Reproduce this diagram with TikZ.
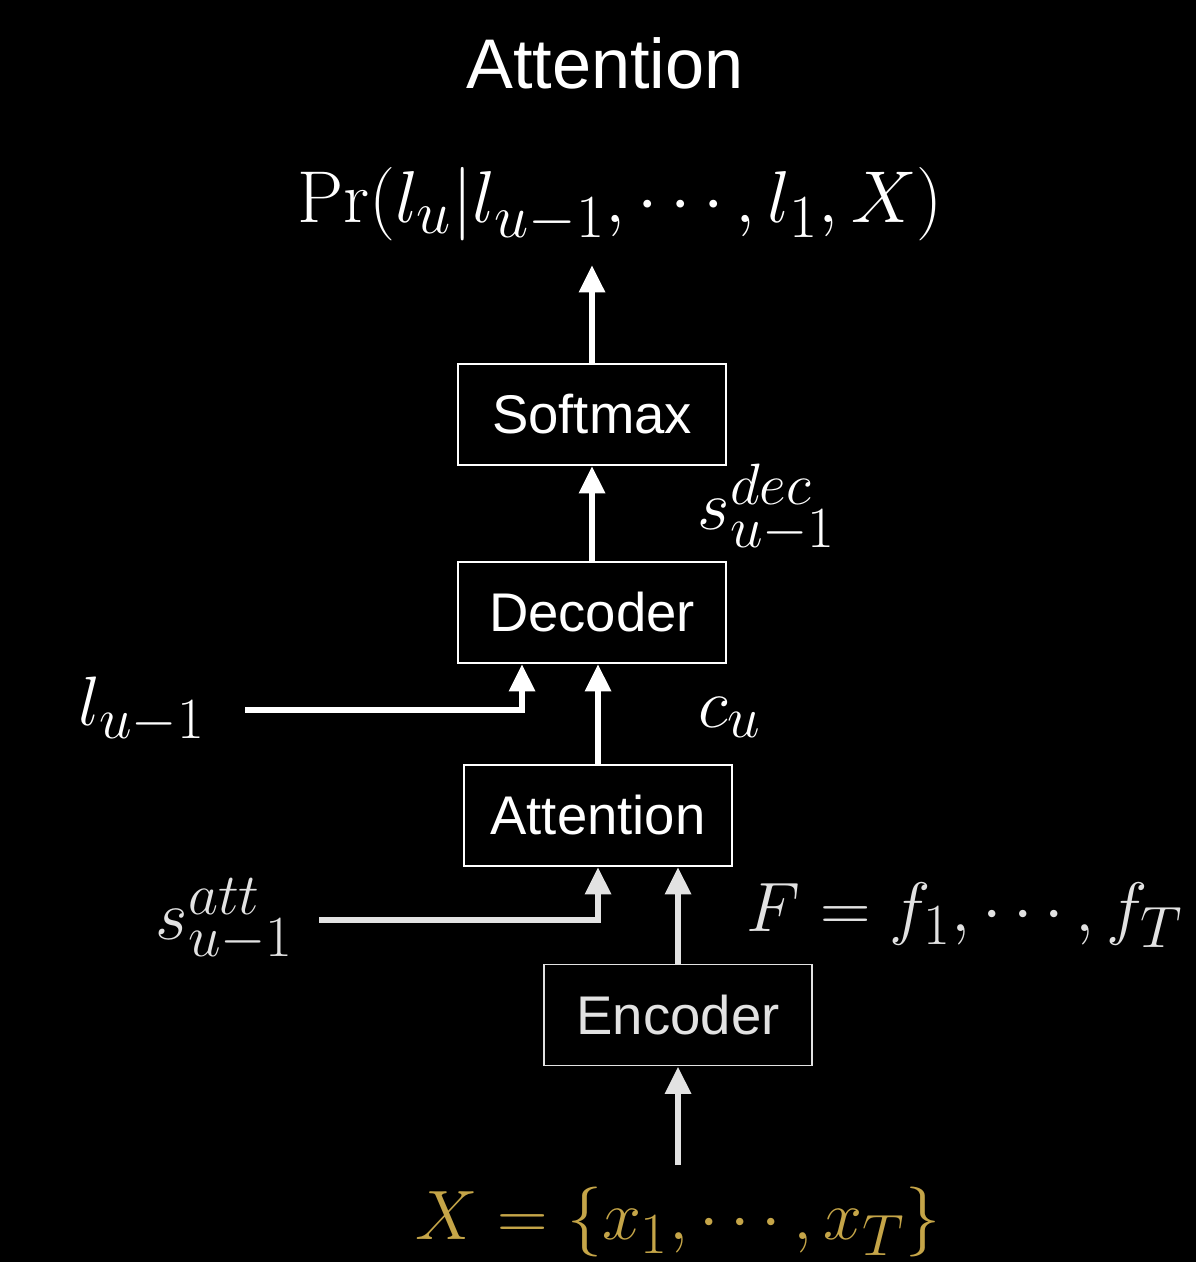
\documentclass[tikz,border=0pt]{standalone}
\usepackage{fontspec}
\setsansfont{Liberation Sans}
\usepackage{tikz}
\usetikzlibrary{arrows.meta}

\definecolor{xgold}{RGB}{197,165,72}
\definecolor{lgray}{RGB}{226,226,226}

\begin{document}
\begin{tikzpicture}[every node/.style={font=\sffamily\fontsize{31}{36}\selectfont, text=white}, >={Triangle[length=5.5mm, width=5mm]},
	blk/.style={draw=white, line width=1.1pt, minimum width=5.36cm, minimum height=2.02cm, inner sep=0pt},
	lbl/.style={font=\Huge, scale=1.6, transform shape},
	flow/.style={->, draw=white, line width=3.6pt}]
	\fill[black] (0,0) rectangle (23.92,-25.24);
	\useasboundingbox (0,0) rectangle (23.92,-25.24);
	\node[font=\sffamily\fontsize{40}{48}\selectfont] (title) at (12.1,-1.26) {Attention};
	\node[lbl, scale=1.05] (pr) at (12.4,-4.1) {$\Pr(l_u|l_{u-1},\cdots,l_1,X)$};
	\node[blk] (soft) at (11.84,-8.29) {Softmax};
	\node[blk] (dec) at (11.84,-12.25) {Decoder};
	\node[blk] (att) at (11.96,-16.31) {Attention};
	\node[blk, draw=lgray, text=lgray] (enc) at (13.56,-20.30) {Encoder};
	\node[lbl] (sdec) at (15.34,-10.16) {$s_{u-1}^{dec}$};
	\node[lbl] (cu) at (14.6,-14.35) {$c_u$};
	\node[lbl] (lprev) at (2.84,-14.2) {$l_{u-1}$};
	\node[lbl, text=lgray] (satt) at (4.5,-18.4) {$s_{u-1}^{att}$};
	\node[lbl, text=lgray] (feat) at (19.3,-18.3) {$F=f_1,\cdots,f_T$};
	\node[lbl, text=xgold] (xin) at (13.56,-24.44) {$X=\{x_1,\cdots,x_T\}$};
	% upward flow
	\draw[flow] (soft.north) -- (soft.north |- 0,-5.3);
	\draw[flow] (dec) -- (soft);
	\draw[flow] (att.north) -- (att.north |- dec.south);
	\draw[flow] ([xshift=0.6cm]lprev.east) -| ([xshift=-1.4cm]dec.south);
	\draw[flow, draw=lgray] (enc.north) -- (enc.north |- att.south);
	\draw[flow, draw=lgray] ([xshift=0.3cm]satt.east) -| (att.south);
	\draw[flow, draw=lgray] (enc.south |- 0,-23.3) -- (enc.south);
\end{tikzpicture}
\end{document}
